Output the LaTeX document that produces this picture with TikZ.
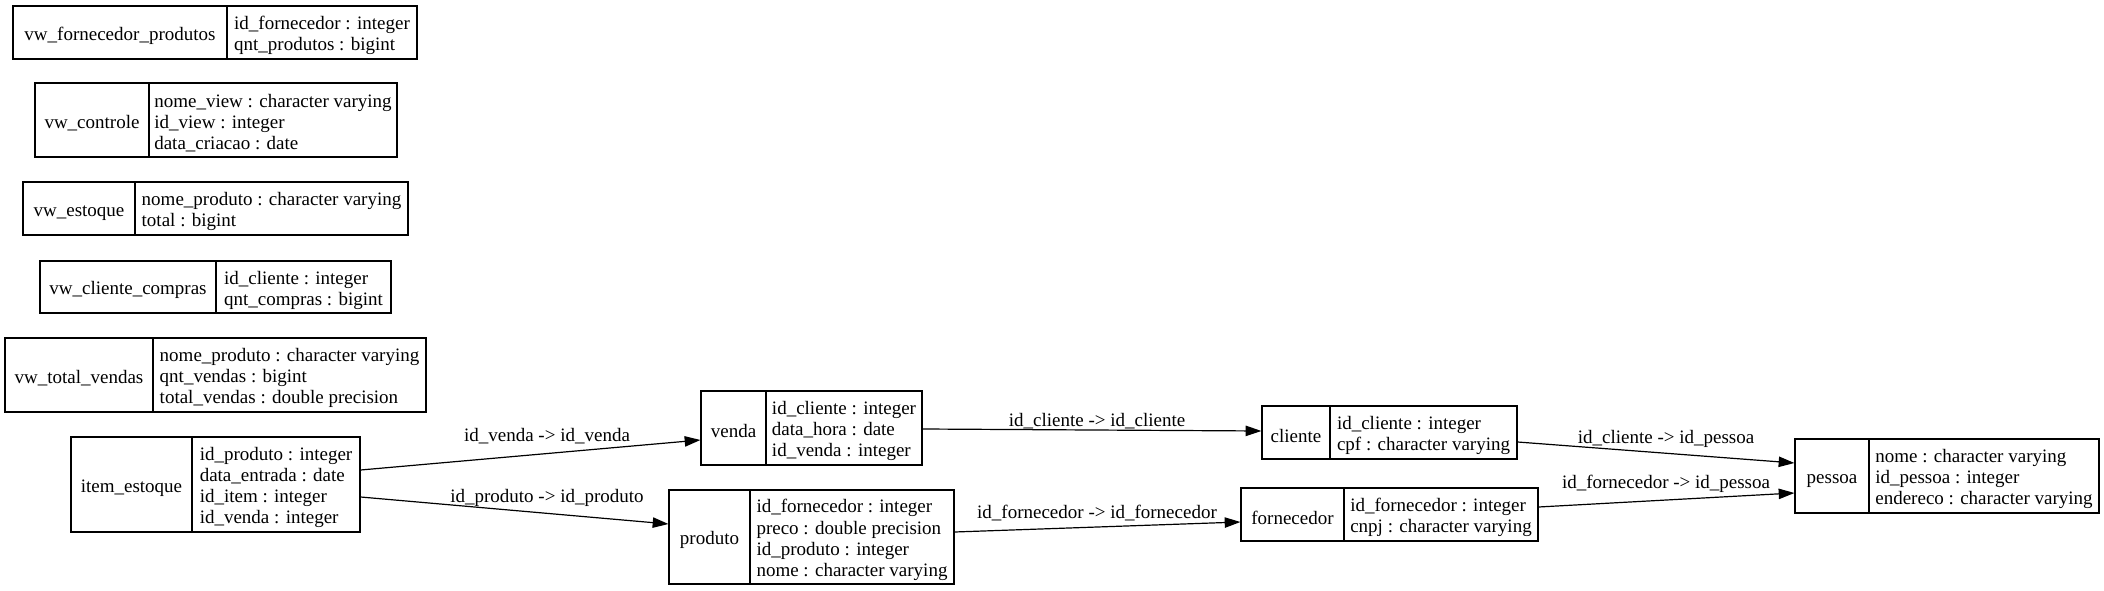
\documentclass[tikz,border=0pt]{standalone}
\usepackage{fontspec}
\setmainfont{Liberation Serif}
\usetikzlibrary{arrows.meta,calc}
\newcommand\topstrut{\rule{0pt}{14.5pt}}
% #1 id, #2 table name, #3 fields, #4 left, #5 divider, #6 right, #7 top, #8 bottom (pixels)
\newcommand\erTable[8]{%
  \node[namecell,minimum width={(#5-#4)*0.75pt},minimum height={(#8-#7)*0.75pt}]
    (#1) at ({(#4+#5)/2},{(#7+#8)/2}) {\topstrut#2};
  \node[fieldcell,minimum width={(#6-#5)*0.75pt},minimum height={(#8-#7)*0.75pt}]
    (#1F) at ({(#5+#6)/2},{(#7+#8)/2}) {\topstrut#3};}
\begin{document}
\begin{tikzpicture}[x=0.75pt,y=-0.75pt,
  tbltext/.style={font=\fontsize{14.25pt}{15.9pt}\selectfont},
  namecell/.style={draw=black,line width=0.9pt,rectangle,inner sep=0pt,tbltext},
  fieldcell/.style={namecell,align=left},
  fk/.style={draw=black,line width=0.9pt,-{Triangle[length=11.8pt,width=7.8pt]}},
  fklabel/.style={tbltext,anchor=base,inner sep=0pt}]
\useasboundingbox (0,0) rectangle (2104,591);

\erTable{vwfp}{vw\_fornecedor\_produtos}{id\_fornecedor : integer\\qnt\_produtos : bigint}{13}{227}{417}{6}{59}
\erTable{vwc}{vw\_controle}{nome\_view : character varying\\id\_view : integer\\data\_criacao : date}{35}{149}{397}{83}{157}
\erTable{vwe}{vw\_estoque}{nome\_produto : character varying\\total : bigint}{23}{135}{408}{182}{235}
\erTable{vwcc}{vw\_cliente\_compras}{id\_cliente : integer\\qnt\_compras : bigint}{40}{216}{391}{261}{313}
\erTable{vwtv}{vw\_total\_vendas}{nome\_produto : character varying\\qnt\_vendas : bigint\\total\_vendas : double precision}{5}{153}{426}{338}{412}
\erTable{item}{item\_estoque}{id\_produto : integer\\data\_entrada : date\\id\_item : integer\\id\_venda : integer}{71}{192}{360}{437}{532}
\erTable{venda}{venda}{id\_cliente : integer\\data\_hora : date\\id\_venda : integer}{701}{766}{922}{391}{465}
\erTable{produto}{produto}{id\_fornecedor : integer\\preco : double precision\\id\_produto : integer\\nome : character varying}{669}{750}{954}{490}{584}
\erTable{cliente}{cliente}{id\_cliente : integer\\cpf : character varying}{1262}{1330}{1517}{406}{459}
\erTable{fornecedor}{fornecedor}{id\_fornecedor : integer\\cnpj : character varying}{1241}{1344}{1538}{488}{541}
\erTable{pessoa}{pessoa}{nome : character varying\\id\_pessoa : integer\\endereco : character varying}{1795}{1869}{2099}{439}{513}

\draw[fk] ($(itemF.east)+(0,-14.5)$) -- ($(venda.west)+(0,12)$);
\draw[fk] ($(itemF.east)+(0,12.5)$) -- ($(produto.west)+(0,-13)$);
\draw[fk] ($(vendaF.east)+(0,1)$) -- ($(cliente.west)+(0,-1.5)$);
\draw[fk] ($(produtoF.east)+(0,-5)$) -- ($(fornecedor.west)+(0,7.5)$);
\draw[fk] ($(clienteF.east)+(0,9.5)$) -- ($(pessoa.west)+(0,-13)$);
\draw[fk] ($(fornecedorF.east)+(0,-7.5)$) -- ($(pessoa.west)+(0,17)$);

\node[fklabel] (l1) at (547,441) {id\_venda -> id\_venda};
\node[fklabel] (l2) at (547,502) {id\_produto -> id\_produto};
\node[fklabel] (l3) at (1097,426) {id\_cliente -> id\_cliente};
\node[fklabel] (l4) at (1097,518) {id\_fornecedor -> id\_fornecedor};
\node[fklabel] (l5) at (1666,443) {id\_cliente -> id\_pessoa};
\node[fklabel] (l6) at (1666,488) {id\_fornecedor -> id\_pessoa};
\end{tikzpicture}
\end{document}
